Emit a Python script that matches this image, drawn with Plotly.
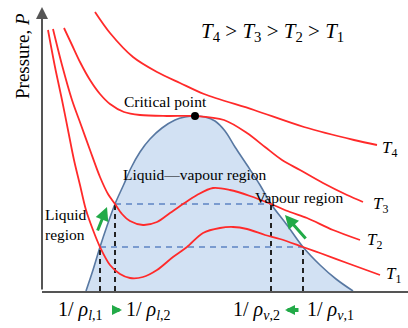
import plotly.graph_objects as go

# Specific volume (v) and pressure (P) in arbitrary schematic units
V_MAX, P_MAX = 36.6, 28.4

t4_v = [5.3, 6.8, 9.1, 11.5, 13.8, 16.2, 21.2, 26.2, 31.2, 33.5]
t4_p = [27.9, 25.8, 23.4, 21.9, 20.8, 19.7, 18.1, 16.4, 15.1, 14.6]

t3_v = [2.2, 3.0, 3.8, 4.8, 5.8, 6.8, 8.2, 9.8, 12.5, 15.3, 18.2, 20.5, 22.3, 24.0, 25.8, 28.1, 30.5, 32.1]
t3_p = [26.3, 24.6, 22.9, 21.1, 19.7, 18.7, 17.9, 17.6, 17.5, 17.5, 17.1, 15.8, 14.4, 13.1, 12.1, 10.8, 9.6, 8.9]

t2_v = [1.1, 2.0, 3.0, 3.9, 4.8, 5.8, 6.6, 7.3, 8.0, 8.8, 10.1, 11.5, 12.8, 14.1, 15.5, 17.1,
        18.8, 20.8, 22.9, 24.8, 26.5, 29.1, 31.8]
t2_p = [26.2, 22.6, 19.1, 16.6, 14.1, 11.4, 9.7, 8.7, 7.7, 7.0, 6.6, 6.9, 7.8, 8.7, 9.6, 10.3,
        10.1, 9.5, 8.7, 7.9, 7.3, 6.1, 5.1]

t1_v = [0.6, 1.3, 2.0, 2.6, 3.2, 3.8, 4.4, 5.1, 5.8, 6.8, 7.8, 8.8, 10.1, 11.5, 13.1, 14.5, 16.1,
        17.8, 19.1, 20.5, 22.3, 23.8, 26.1, 27.8, 30.5, 33.8]
t1_p = [26.1, 22.4, 19.1, 16.1, 13.1, 10.6, 8.1, 6.1, 4.4, 2.6, 1.7, 1.3, 1.4, 2.1, 3.4, 4.4, 5.8,
        6.3, 6.4, 6.2, 5.6, 5.2, 4.4, 3.8, 2.8, 1.6]

# Saturation dome (liquid branch -> critical point -> vapour branch)
dome_v = [4.4, 5.1, 5.8, 6.5, 7.3, 8.2, 8.9, 9.8, 10.8, 12.0, 13.3, 14.3, 15.3, 16.3, 17.3, 18.3,
          19.3, 20.5, 21.8, 22.9, 24.5, 26.1, 27.8, 29.4, 31.1]
dome_p = [0.0, 2.1, 4.4, 6.5, 8.7, 10.7, 12.3, 13.9, 15.2, 16.3, 17.1, 17.4, 17.5, 17.4, 17.0, 16.0,
          14.4, 12.6, 10.6, 8.7, 6.6, 4.4, 2.6, 1.2, 0.0]

critical_v, critical_p = 15.3, 17.5

# Saturation pressures and coexisting volumes for T2 and T1
sat_p = [8.7, 4.4]
liq_v = [7.3, 5.8]
vap_v = [22.9, 26.1]

iso_labels = ["<i>T</i><sub>4</sub>", "<i>T</i><sub>3</sub>", "<i>T</i><sub>2</sub>", "<i>T</i><sub>1</sub>"]
iso_label_v = [34.7, 33.8, 33.2, 35.1]
iso_label_p = [14.2, 8.6, 5.0, 1.6]

vol_labels = ["1/ <i>\u03c1</i><sub><i>l</i>,1</sub>", "1/ <i>\u03c1</i><sub><i>l</i>,2</sub>",
              "1/ <i>\u03c1</i><sub><i>\u03bd</i>,2</sub>", "1/ <i>\u03c1</i><sub><i>\u03bd</i>,1</sub>"]
vol_label_v = [3.8, 10.6, 21.4, 28.9]

SERIF = "Liberation Serif, Times New Roman, serif"
RED = "#ff2a2a"
GREEN = "#22aa48"

fig = go.Figure()

fig.add_trace(go.Scatter(x=dome_v, y=dome_p, mode="lines", fill="toself",
                         fillcolor="#d2e1f3", line=dict(color="#5878a2", width=1.6),
                         line_shape="spline", hoverinfo="skip"))

for p, lv, vv in zip(sat_p, liq_v, vap_v):
    fig.add_trace(go.Scatter(x=[lv, vv], y=[p, p], mode="lines",
                             line=dict(color="#5d84c4", width=1.6, dash="6px,5px")))
    for v in (lv, vv):
        fig.add_trace(go.Scatter(x=[v, v], y=[0, p], mode="lines",
                                 line=dict(color="#222222", width=2, dash="5px,4px")))

for vs, ps in [(t4_v, t4_p), (t3_v, t3_p), (t2_v, t2_p), (t1_v, t1_p)]:
    fig.add_trace(go.Scatter(x=vs, y=ps, mode="lines", line_shape="spline",
                             line=dict(color=RED, width=1.8, smoothing=0.9)))

fig.add_trace(go.Scatter(x=[critical_v], y=[critical_p], mode="markers",
                         marker=dict(color="black", size=8)))

ann = []
# vertical axis with arrow head
ann.append(dict(x=0, y=P_MAX, ax=0, ay=0, xref="x", yref="y", axref="x", ayref="y",
                showarrow=True, arrowhead=2, arrowsize=1.2, arrowwidth=2, arrowcolor="#555555",
                text=""))

def label(text, x, y, size=16, paper=False, **kw):
    if paper:
        d = dict(x=x / V_MAX, y=y / P_MAX, xref="paper", yref="paper")
    else:
        d = dict(x=x, y=y, xref="x", yref="y")
    d.update(text=text, showarrow=False, xanchor="center", yanchor="middle",
             font=dict(family=SERIF, size=size, color="black"))
    d.update(kw)
    ann.append(d)

label("Critical point", 12.3, 19.0, size=15.5)
label("Liquid\u2014vapour region", 15.3, 11.7, size=15.5)
label("Vapour region", 25.7, 9.4, size=15.5)
label("Liquid<br>region", 0.1, 6.7, size=15.5, xanchor="left", align="left")
for t, x, y in zip(iso_labels, iso_label_v, iso_label_p):
    label(t, x, y, size=17)
label("<i>T</i><sub>4</sub> > <i>T</i><sub>3</sub> > <i>T</i><sub>2</sub> > <i>T</i><sub>1</sub>",
      23.0, 25.9, size=21)
label("Pressure, <i>P</i>", -2.0, 23.5, size=19, paper=True, textangle=-90)

for t, x in zip(vol_labels, vol_label_v):
    label(t, x, -1.9, size=20, paper=True)

# green arrows: coexistence volumes approaching each other as T rises
for (x0, y0, x1, y1) in [(5.5, 5.9, 6.5, 8.4), (26.5, 5.1, 24.3, 7.6)]:
    ann.append(dict(x=x1, y=y1, ax=x0, ay=y0, xref="x", yref="y", axref="x", ayref="y",
                    showarrow=True, arrowhead=2, arrowsize=0.9, arrowwidth=3,
                    arrowcolor=GREEN, text="", standoff=0))
for (xh, dx) in [(8.0, -11), (24.3, 15)]:
    ann.append(dict(x=xh / V_MAX, y=-1.9 / P_MAX, xref="paper", yref="paper",
                    ax=dx, ay=0, showarrow=True, arrowhead=2, arrowsize=0.5,
                    arrowwidth=4, arrowcolor=GREEN, text="", standoff=0))

fig.update_layout(
    width=408, height=328, margin=dict(l=42, r=0, t=7, b=37),
    paper_bgcolor="white", plot_bgcolor="white", showlegend=False,
    annotations=ann,
    xaxis=dict(range=[0, V_MAX], showgrid=False, zeroline=False, showticklabels=False,
               ticks="", showline=True, linecolor="#555555", linewidth=2),
    yaxis=dict(range=[0, P_MAX], showgrid=False, zeroline=False, showticklabels=False,
               ticks="", showline=False),
)

fig.write_html("out.html")
